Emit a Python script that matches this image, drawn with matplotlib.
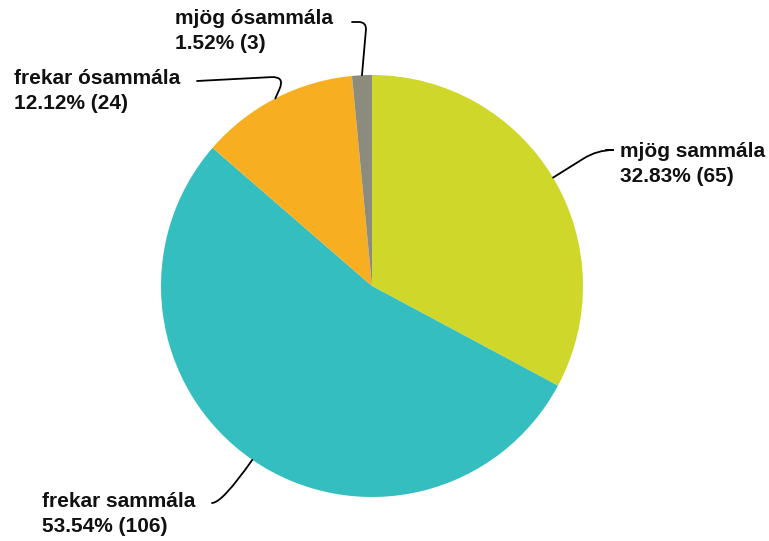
import matplotlib.pyplot as plt
import numpy as np

labels = ['mjög sammála', 'frekar sammála', 'frekar ósammála', 'mjög ósammála']
counts = [65, 106, 24, 3]
colors = ['#CFD72B', '#34BEC0', '#F7AF21', '#8C8C7E']

W, H = 769, 541
fig = plt.figure(figsize=(W / 100, H / 100), dpi=100)
ax = fig.add_axes([0, 0, 1, 1])

cx, cy, r = 372, H - 286, 211
wedges, _ = ax.pie(counts, colors=colors, startangle=90, counterclock=False,
                   center=(cx, cy), radius=r, frame=True,
                   wedgeprops=dict(linewidth=0))
ax.set_xlim(0, W)
ax.set_ylim(0, H)
ax.set_aspect('equal')
ax.axis('off')

total = sum(counts)
# text (left x, center y from top), line start (from top), connector style
layout = [
    ((620, 164), (606, 150), 'angle,angleA=0,angleB=32,rad=16'),
    ((42, 514), (212, 503), 'angle3,angleA=0,angleB=55'),
    ((14, 91), (197, 81), 'angle,angleA=3,angleB=66,rad=14'),
    ((175, 31), (352, 22), 'angle,angleA=0,angleB=85,rad=8'),
]
for w, lab, n, (tp, ls, cs) in zip(wedges, labels, counts, layout):
    th = np.deg2rad((w.theta1 + w.theta2) / 2)
    px, py = cx + r * np.cos(th), cy + r * np.sin(th)
    ax.annotate('', xy=(px, py), xytext=(ls[0], H - ls[1]),
                arrowprops=dict(arrowstyle='-', color='black', lw=1.3,
                                shrinkA=0, shrinkB=0, connectionstyle=cs))
    ax.text(tp[0], H - tp[1], f'{lab}\n{n / total * 100:.2f}% ({n})',
            ha='left', va='center', fontsize=15, fontweight='bold',
            family='Liberation Sans', linespacing=1.4, color='#111111')

fig.savefig('out.png', dpi=100)
